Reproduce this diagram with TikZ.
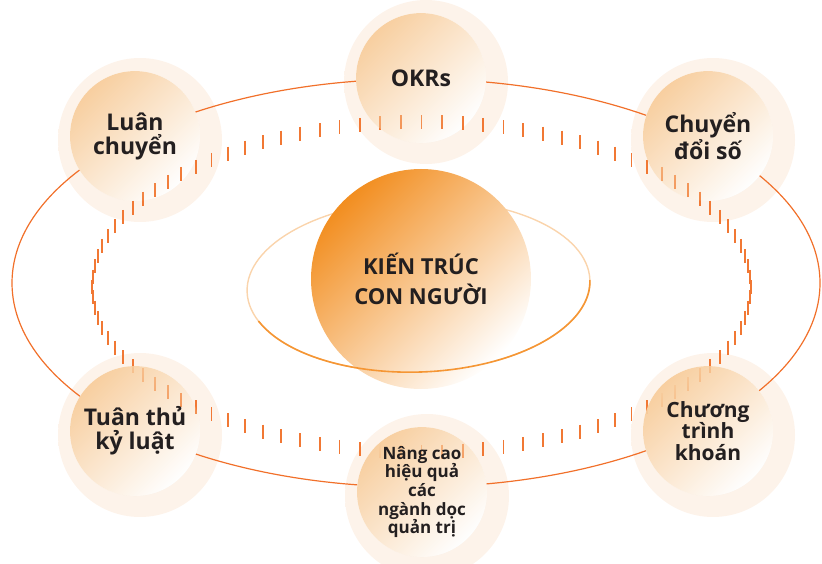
\documentclass[tikz,border=0pt]{standalone}
\usepackage{fontspec}
\setmainfont{Open Sans}
\usepackage{xcolor}
\definecolor{ringorange}{RGB}{241,112,42}
\definecolor{tickorange}{RGB}{241,120,52}
\definecolor{peach}{RGB}{248,207,160}
\definecolor{halopeach}{RGB}{253,243,234}
\definecolor{coreorange}{RGB}{242,142,32}
\definecolor{coreback}{RGB}{250,212,172}
\definecolor{corefront}{RGB}{245,150,52}
\definecolor{textdark}{RGB}{35,31,32}
\usepackage{tikz}
\usetikzlibrary{fadings}
\pgfdeclareradialshading{halofade}{\pgfpoint{0bp}{0bp}}{color(0bp)=(halopeach); color(36bp)=(halopeach); color(50bp)=(white)}
\tikzfading[name=satfade, top color=transparent!0, bottom color=transparent!100]
\newcommand{\satradius}{65pt}
\tikzset{
    ring/.style={ringorange, line width=1.2pt},
    tickmark/.style={tickorange, line width=1.8pt},
    satdisc/.style={circle, fill=white, minimum size=130pt, inner sep=0pt},
    satglow/.style={shading=halofade},
    satface/.style={peach, path fading=satfade, fading angle=45},
    satlabel/.style={align=center, text=textdark, font=\bfseries\fontsize{23}{24}\selectfont},
    smalllabel/.style={satlabel, font=\bfseries\fontsize{17}{18.7}\selectfont},
    core/.style={circle, minimum size=220pt, inner sep=0pt, top color=coreorange, bottom color=white, shading angle=45},
    innerback/.style={coreback, line width=1.4pt},
    innerfront/.style={corefront, line width=1.6pt}
}

\begin{document}
\begin{tikzpicture}[x=1pt, y=-1pt]
    \useasboundingbox (0,0) rectangle (822,564);

    % soft glow under each topic
    \foreach \cx/\cy in {421/78, 135/136, 708/136, 135/431, 708/431, 422/492}
        \shade[satglow] ({\cx+5},{\cy+4}) circle[radius=82pt];

    % outer orbit
    \draw[ring] (416,283) ellipse[x radius=404pt, y radius=204pt];

    % topics
    \node[satdisc] (okr) at (421,78) {};
    \node[satdisc] (rotation) at (135,136) {};
    \node[satdisc] (digital) at (708,136) {};
    \node[satdisc] (discipline) at (135,431) {};
    \node[satdisc] (contract) at (708,431) {};
    \node[satdisc] (vertical) at (422,492) {};

    % dashed orbit
    \foreach \k in {0,...,99}
        \draw[tickmark] ({421.5+329.5*cos(\k*3.6)},{280+165*sin(\k*3.6)}) -- ++(0,14);

    \foreach \n in {okr, rotation, digital, discipline, contract, vertical}
        \fill[satface] (\n) circle[radius=\satradius];

    % centre
    \begin{scope}[rotate around={2:(418.5,286)}]
        \draw[innerback] (418.5,286) ellipse[x radius=171.5pt, y radius=86pt];
    \end{scope}
    \node[core] (people) at (421,279) {};
    \begin{scope}[rotate around={2:(418.5,286)}]
        \draw[innerfront] (418.5,286) ++(200:171.5pt and 86pt) arc[start angle=200, end angle=360, x radius=171.5pt, y radius=86pt];
    \end{scope}

    \node[satlabel, font=\bfseries\fontsize{22}{30}\selectfont] at (people) {KIẾN TRÚC\\CON NGƯỜI};
    \node[satlabel] at (okr) {OKRs};
    \node[satlabel] at (rotation) {Luân\\chuyển};
    \node[satlabel] at (digital) {Chuyển\\đổi số};
    \node[satlabel] at (discipline) {Tuân thủ\\kỷ luật};
    \node[satlabel, font=\bfseries\fontsize{21}{21.5}\selectfont] at (contract) {Chương\\trình\\khoán};
    \node[smalllabel] at (vertical) {Nâng cao\\hiệu quả\\các\\ngành dọc\\quản trị};
\end{tikzpicture}
\end{document}
